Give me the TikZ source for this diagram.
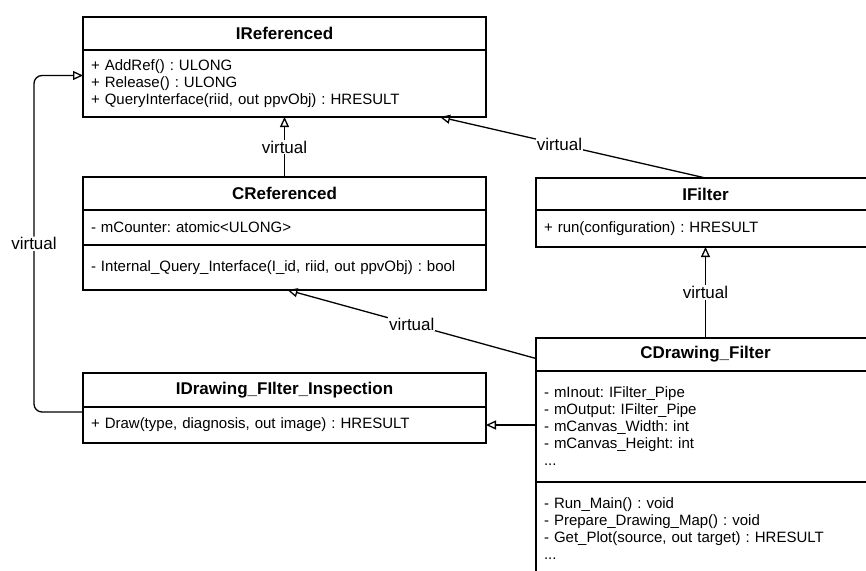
\documentclass[tikz,border=0pt]{standalone}
\usepackage{fontspec}
\setmainfont{Liberation Sans}
\usetikzlibrary{positioning,arrows.meta}
\frenchspacing

\begin{document}
\begin{tikzpicture}[x=1pt,y=-1pt,line width=1.3pt,
	classname/.style={draw,outer sep=0pt,anchor=north west,minimum height=#1,
		font=\fontsize{17}{20}\selectfont\bfseries},
	members/.style={draw,outer sep=0pt,inner xsep=8pt,inner ysep=0pt,align=left,
		minimum height=#1,font=\fontsize{15}{17}\selectfont},
	virt/.style={-{Triangle[open,length=10pt,width=9pt]}},
	vtext/.style={fill=white,inner sep=1pt,font=\fontsize{17}{20}\selectfont}]
	\useasboundingbox (0,0) rectangle (866,570);
	\clip (0,0) rectangle (866,570);
	% left column
	\node[classname=33pt,minimum width=403pt] (iref) at (83,17) {IReferenced};
	\node[members=67pt,text width=387pt,below=0pt of iref] (irefm)
		{+ AddRef() : ULONG\\+ Release() : ULONG\\+ QueryInterface(riid, out ppvObj) : HRESULT};
	\node[classname=33pt,minimum width=403pt] (cref) at (83,177) {CReferenced};
	\node[members=35pt,text width=387pt,below=0pt of cref] (crefa) {- mCounter: atomic<ULONG>};
	\node[members=45pt,text width=387pt,below=0pt of crefa] (crefm)
		{- Internal\_Query\_Interface(I\_id, riid, out ppvObj) : bool};
	\node[classname=34pt,minimum width=403pt] (idraw) at (83,373) {IDrawing\_FIlter\_Inspection};
	\node[members=36pt,text width=387pt,below=0pt of idraw] (idrawm)
		{+ Draw(type, diagnosis, out image) : HRESULT};
	% right column
	\node[classname=32pt,minimum width=339pt] (ifilter) at (536,178) {IFilter};
	\node[members=37pt,text width=323pt,below=0pt of ifilter] (ifilterm) {+ run(configuration) : HRESULT};
	\node[classname=33pt,minimum width=339pt] (cdraw) at (536,338) {CDrawing\_Filter};
	\node[members=111pt,text width=323pt,below=0pt of cdraw] (cdrawa)
		{- mInout: IFilter\_Pipe\\- mOutput: IFilter\_Pipe\\- mCanvas\_Width: int\\- mCanvas\_Height: int\\...};
	\node[members=94pt,text width=323pt,below=0pt of cdrawa] (cdrawm)
		{- Run\_Main() : void\\- Prepare\_Drawing\_Map() : void\\- Get\_Plot(source, out target) : HRESULT\\...};
	% inheritance
	\draw[virt] (cref.north) -- node[vtext]{virtual} (irefm.south);
	\draw[virt] (ifilter.north) -- node[vtext,pos=0.55]{virtual} ([xshift=-46pt]irefm.south east);
	\draw[virt] (cdraw.north) -- node[vtext]{virtual} (ifilterm.south);
	\draw[virt] ([yshift=-4pt]cdraw.west) -- node[vtext]{virtual} ([xshift=3pt]crefm.south);
	\draw[virt] (cdrawa.west |- idrawm.east) -- (idrawm.east);
	\draw[virt,rounded corners=8pt] ([yshift=-5pt]idraw.south west)
		-| node[vtext,pos=0.75]{virtual} ([xshift=-49pt,yshift=8pt]irefm.west) -- ([yshift=8pt]irefm.west);
\end{tikzpicture}
\end{document}
